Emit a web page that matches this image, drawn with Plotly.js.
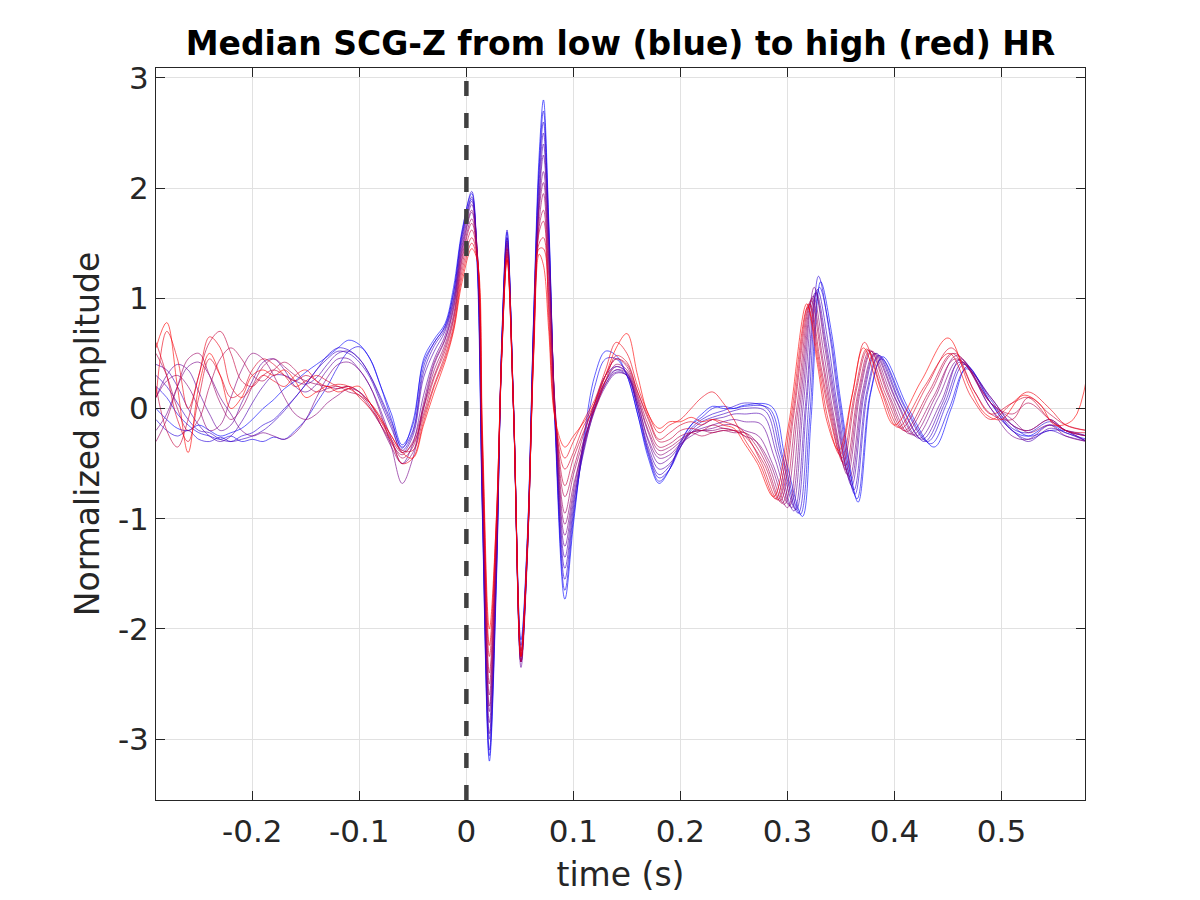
<!DOCTYPE html>
<html><head><meta charset="utf-8">
<script src="https://cdn.plot.ly/plotly-3.0.1.min.js"></script>
<style>html,body{margin:0;padding:0;background:#fff}#chart{width:1200px;height:900px}</style>
</head><body><div id="chart"></div>
<script>
// shared time grid (s) for the part before 0.26 s
const tShared = [-0.29,-0.28,-0.27,-0.26,-0.25,-0.24,-0.23,-0.22,-0.21,-0.2,-0.19,-0.18,-0.17,-0.16,-0.15,-0.14,-0.13,-0.12,-0.11,-0.1,-0.09,-0.08,-0.07,-0.06,-0.05,
 -0.04,-0.03,-0.02,-0.012,-0.004,0.005,0.01,0.015,0.0215,0.028,0.033,0.038,0.044,0.051,0.057,0.063,0.068,0.072,0.077,0.083,0.092,0.1,
 0.11,0.12,0.13,0.14,0.15,0.16,0.17,0.18,0.19,0.2,0.21,0.22,0.23,0.24,0.25,0.26];

// median beats, low HR (blue) -> high HR (red): amplitude on tShared
const z01 = [0.0,-0.1,-0.18,-0.2,-0.15,-0.2,-0.25,-0.22,-0.18,-0.1,0.0,0.08,0.18,0.25,0.33,0.4,0.47,0.55,0.62,0.58,0.45,0.2,-0.05,-0.33,-0.15,
 0.45,0.63,0.77,1.1,1.62,1.95,1.3,-1.0,-3.2,-1.6,0.6,1.6,0.0,-2.1,-1.15,0.9,2.3,2.8,1.7,-0.2,-1.73,-1.05,
 -0.25,0.3,0.52,0.48,0.3,-0.05,-0.45,-0.68,-0.55,-0.3,-0.15,-0.05,0.02,0.0,0.0,0.03];
const z02 = [0.2,0.1,-0.05,-0.15,-0.22,-0.25,-0.28,-0.25,-0.3,-0.28,-0.3,-0.26,-0.28,-0.2,-0.1,0.05,0.2,0.38,0.52,0.56,0.45,0.2,-0.1,-0.36,-0.12,
 0.42,0.6,0.75,1.05,1.58,1.9,1.35,-0.95,-3.15,-1.55,0.55,1.55,0.05,-2.15,-1.2,0.85,2.2,2.7,1.65,-0.15,-1.65,-1.0,
 -0.3,0.2,0.45,0.45,0.3,-0.05,-0.42,-0.66,-0.55,-0.32,-0.15,-0.08,0.0,0.02,0.0,0.02];
const z03 = [-0.1,-0.2,-0.25,-0.2,-0.28,-0.3,-0.26,-0.3,-0.25,-0.22,-0.15,-0.1,0.0,0.1,0.22,0.35,0.48,0.55,0.53,0.45,0.3,0.1,-0.12,-0.35,-0.2,
 0.38,0.6,0.74,1.05,1.6,1.97,1.4,-0.9,-3.1,-1.5,0.6,1.62,0.0,-2.2,-1.2,0.85,2.15,2.6,1.6,-0.15,-1.55,-0.95,
 -0.35,0.05,0.3,0.38,0.32,0.0,-0.4,-0.63,-0.55,-0.35,-0.18,-0.1,-0.05,-0.02,0.02,0.05];
const z04 = [0.3,0.2,0.05,-0.1,-0.2,-0.22,-0.28,-0.3,-0.28,-0.25,-0.2,-0.12,-0.02,0.1,0.22,0.35,0.45,0.52,0.5,0.42,0.28,0.05,-0.18,-0.38,-0.22,
 0.33,0.57,0.72,1.0,1.55,1.92,1.4,-0.85,-3.0,-1.45,0.55,1.55,0.05,-2.25,-1.25,0.8,2.05,2.5,1.55,-0.1,-1.45,-0.9,
 -0.3,0.02,0.25,0.35,0.3,0.0,-0.38,-0.6,-0.52,-0.35,-0.2,-0.12,-0.08,-0.05,-0.02,0.0];
const z05 = [0.4,0.35,0.2,0.0,-0.15,-0.25,-0.3,-0.25,-0.12,0.05,0.2,0.3,0.3,0.25,0.22,0.28,0.4,0.5,0.52,0.45,0.3,0.08,-0.15,-0.4,-0.25,
 0.28,0.52,0.7,0.98,1.52,1.88,1.45,-0.8,-2.95,-1.4,0.5,1.5,0.0,-2.3,-1.3,0.75,1.95,2.4,1.5,-0.1,-1.35,-0.85,
 -0.38,0.0,0.22,0.33,0.3,0.02,-0.35,-0.55,-0.5,-0.35,-0.22,-0.15,-0.1,-0.08,-0.05,-0.05];
const z06 = [0.1,0.3,0.4,0.35,0.15,-0.05,-0.2,-0.15,0.05,0.25,0.42,0.45,0.35,0.2,0.15,0.22,0.35,0.45,0.45,0.35,0.2,-0.02,-0.28,-0.5,-0.32,
 0.12,0.45,0.66,0.95,1.48,1.85,1.45,-0.7,-2.85,-1.35,0.55,1.52,0.05,-2.35,-1.35,0.75,1.9,2.3,1.45,-0.05,-1.25,-0.8,
 -0.35,-0.02,0.2,0.32,0.3,0.05,-0.3,-0.5,-0.45,-0.33,-0.22,-0.18,-0.15,-0.12,-0.1,-0.12];
const z07 = [-0.2,-0.05,0.2,0.38,0.42,0.3,0.1,-0.05,-0.2,-0.25,-0.22,-0.25,-0.28,-0.22,-0.1,0.1,0.28,0.4,0.42,0.35,0.2,-0.05,-0.35,-0.68,-0.45,
 0.0,0.4,0.62,0.9,1.42,1.78,1.4,-0.65,-2.75,-1.3,0.5,1.48,0.0,-2.3,-1.3,0.7,1.85,2.15,1.35,-0.05,-1.15,-0.75,
 -0.3,0.0,0.22,0.35,0.32,0.05,-0.28,-0.45,-0.42,-0.32,-0.25,-0.2,-0.18,-0.15,-0.15,-0.2];
const z08 = [0.1,0.25,0.3,0.2,0.0,-0.2,-0.15,0.1,0.35,0.5,0.45,0.3,0.1,-0.05,-0.1,-0.05,0.05,0.12,0.18,0.15,0.05,-0.15,-0.35,-0.5,-0.4,
 0.05,0.42,0.63,0.92,1.45,1.8,1.45,-0.6,-2.7,-1.25,0.5,1.45,0.05,-2.3,-1.3,0.7,1.8,2.05,1.3,0.0,-1.05,-0.7,
 -0.32,0.02,0.25,0.38,0.33,0.08,-0.22,-0.42,-0.38,-0.3,-0.22,-0.2,-0.2,-0.18,-0.2,-0.25];
const z09 = [-0.3,-0.1,0.2,0.45,0.5,0.3,0.05,-0.1,0.0,0.2,0.38,0.45,0.38,0.3,0.25,0.22,0.2,0.18,0.2,0.15,0.02,-0.15,-0.32,-0.42,-0.3,
 0.02,0.35,0.58,0.85,1.38,1.72,1.4,-0.55,-2.6,-1.2,0.45,1.42,0.0,-2.25,-1.3,0.65,1.7,1.95,1.2,0.0,-0.95,-0.6,
 -0.28,0.0,0.25,0.4,0.35,0.1,-0.2,-0.38,-0.35,-0.28,-0.22,-0.2,-0.22,-0.2,-0.22,-0.22];
const z10 = [0.5,0.3,0.0,-0.2,-0.1,0.2,0.45,0.55,0.45,0.3,0.25,0.35,0.42,0.35,0.22,0.15,0.18,0.2,0.15,0.12,0.0,-0.15,-0.3,-0.45,-0.35,
 0.0,0.3,0.55,0.82,1.35,1.68,1.42,-0.5,-2.5,-1.15,0.5,1.45,0.05,-2.3,-1.3,0.6,1.65,1.8,1.1,-0.05,-0.8,-0.55,
 -0.22,0.05,0.3,0.45,0.38,0.12,-0.15,-0.35,-0.32,-0.25,-0.22,-0.25,-0.22,-0.2,-0.2,-0.22];
const z11 = [0.2,-0.2,-0.35,-0.1,0.3,0.6,0.7,0.5,0.25,0.2,0.3,0.35,0.3,0.25,0.3,0.25,0.15,0.18,0.2,0.15,0.05,-0.1,-0.28,-0.4,-0.32,
 -0.05,0.28,0.52,0.8,1.3,1.62,1.4,-0.4,-2.4,-1.1,0.45,1.4,0.0,-2.25,-1.25,0.6,1.6,1.7,1.0,-0.05,-0.7,-0.45,
 -0.2,0.05,0.3,0.45,0.4,0.15,-0.1,-0.3,-0.28,-0.2,-0.18,-0.2,-0.15,-0.18,-0.2,-0.25];
const z12 = [0.6,0.3,-0.1,-0.3,0.1,0.45,0.3,0.1,0.15,0.35,0.45,0.4,0.3,0.2,0.25,0.3,0.25,0.2,0.18,0.12,0.05,-0.08,-0.25,-0.38,-0.38,
 -0.08,0.22,0.48,0.75,1.25,1.55,1.38,-0.35,-2.25,-1.05,0.5,1.38,0.0,-2.2,-1.25,0.55,1.5,1.55,0.9,-0.1,-0.55,-0.4,
 -0.15,0.0,0.25,0.48,0.42,0.15,-0.08,-0.28,-0.22,-0.15,-0.12,-0.15,-0.1,-0.12,-0.15,-0.22];
const z13 = [0.1,0.7,0.45,0.0,0.3,0.65,0.55,0.2,0.1,0.2,0.3,0.25,0.2,0.3,0.35,0.25,0.2,0.22,0.2,0.1,0.0,-0.12,-0.3,-0.5,-0.45,
 -0.12,0.2,0.45,0.72,1.2,1.5,1.35,-0.3,-2.15,-1.0,0.45,1.35,0.0,-2.25,-1.2,0.55,1.45,1.45,0.8,-0.1,-0.45,-0.3,
 -0.1,0.08,0.35,0.6,0.5,0.2,-0.05,-0.22,-0.15,-0.1,0.0,0.1,0.15,0.05,-0.1,-0.28];
const z14 = [0.55,0.78,0.2,-0.4,0.2,0.5,0.3,0.0,0.1,0.3,0.35,0.3,0.35,0.25,0.1,0.15,0.2,0.15,0.18,0.2,0.05,-0.1,-0.25,-0.4,-0.45,
 -0.15,0.15,0.42,0.7,1.15,1.45,1.35,-0.2,-2.0,-1.0,0.5,1.35,0.0,-2.25,-1.25,0.5,1.4,1.3,0.7,-0.1,-0.35,-0.25,
 -0.12,0.05,0.3,0.55,0.68,0.3,-0.05,-0.18,-0.12,-0.12,-0.08,-0.12,-0.1,-0.15,-0.18,-0.32];

// diastolic part (after 0.26 s): each beat's own sample times and amplitudes
const td01 = [0.285,0.298,0.314,0.322,0.331,0.341,0.350,0.366,0.378,0.389,0.413,0.437,0.453,0.468,0.49,0.51,0.525,0.545,0.56,0.58];
const zd01 = [0.02,-0.45,-0.98,-0.1,1.15,0.7,0.05,-0.85,0.15,0.47,0.0,-0.35,0.0,0.38,0.05,-0.2,-0.25,-0.15,-0.22,-0.28];
const td02 = [0.283,0.296,0.312,0.321,0.330,0.340,0.349,0.365,0.377,0.388,0.411,0.434,0.451,0.467,0.49,0.51,0.525,0.545,0.56,0.58];
const zd02 = [0.0,-0.45,-0.96,-0.05,1.1,0.68,0.05,-0.82,0.12,0.45,0.0,-0.32,0.0,0.36,0.1,-0.15,-0.25,-0.2,-0.2,-0.25];
const td03 = [0.281,0.294,0.310,0.320,0.329,0.339,0.348,0.363,0.375,0.386,0.409,0.431,0.449,0.465,0.49,0.51,0.525,0.545,0.56,0.58];
const zd03 = [0.0,-0.42,-0.95,0.05,1.2,0.7,0.05,-0.78,0.15,0.48,0.02,-0.3,0.05,0.4,0.08,-0.18,-0.22,-0.12,-0.2,-0.3];
const td04 = [0.279,0.292,0.308,0.318,0.328,0.338,0.347,0.362,0.374,0.385,0.407,0.428,0.447,0.464,0.49,0.51,0.525,0.545,0.56,0.58];
const zd04 = [-0.02,-0.42,-0.92,0.05,1.08,0.6,0.0,-0.74,0.15,0.48,0.02,-0.3,0.05,0.42,0.05,-0.2,-0.28,-0.2,-0.25,-0.3];
const td05 = [0.277,0.290,0.306,0.317,0.327,0.337,0.346,0.360,0.372,0.383,0.405,0.426,0.445,0.462,0.49,0.51,0.525,0.545,0.56,0.58];
const zd05 = [-0.06,-0.42,-0.93,0.05,1.05,0.55,0.0,-0.7,0.15,0.5,0.05,-0.28,0.05,0.45,0.0,-0.2,-0.3,-0.18,-0.22,-0.3];
const td06 = [0.275,0.288,0.304,0.315,0.326,0.336,0.345,0.359,0.371,0.382,0.403,0.423,0.443,0.461,0.49,0.51,0.525,0.545,0.56,0.58];
const zd06 = [-0.14,-0.45,-0.9,0.05,1.05,0.55,0.0,-0.66,0.15,0.5,0.05,-0.27,0.05,0.42,0.05,-0.15,-0.2,-0.1,-0.2,-0.25];
const td07 = [0.273,0.286,0.302,0.314,0.325,0.335,0.344,0.358,0.370,0.381,0.401,0.420,0.441,0.460,0.49,0.51,0.525,0.545,0.56,0.58];
const zd07 = [-0.25,-0.5,-0.88,0.1,1.1,0.55,0.0,-0.62,0.15,0.5,0.08,-0.25,0.1,0.44,0.0,-0.25,-0.28,-0.15,-0.2,-0.3];
const td08 = [0.271,0.284,0.300,0.312,0.324,0.334,0.343,0.356,0.368,0.379,0.398,0.417,0.438,0.458,0.49,0.51,0.525,0.545,0.56,0.58];
const zd08 = [-0.3,-0.5,-0.9,0.05,1.02,0.5,-0.05,-0.6,0.15,0.52,0.1,-0.24,0.1,0.48,0.05,-0.1,-0.22,-0.15,-0.25,-0.3];
const td09 = [0.269,0.282,0.297,0.310,0.323,0.333,0.342,0.355,0.367,0.378,0.396,0.414,0.436,0.457,0.49,0.51,0.525,0.545,0.56,0.58];
const zd09 = [-0.28,-0.5,-0.87,0.0,1.0,0.45,-0.05,-0.56,0.15,0.52,0.1,-0.23,0.1,0.45,0.1,-0.15,-0.2,-0.1,-0.2,-0.25];
const td10 = [0.268,0.280,0.295,0.308,0.322,0.332,0.341,0.354,0.366,0.377,0.394,0.411,0.434,0.456,0.49,0.51,0.525,0.545,0.56,0.58];
const zd10 = [-0.3,-0.5,-0.86,-0.05,0.98,0.45,-0.05,-0.52,0.15,0.53,0.12,-0.21,0.15,0.5,0.05,-0.05,0.05,-0.1,-0.2,-0.25];
const td11 = [0.278,0.293,0.306,0.321,0.331,0.340,0.352,0.364,0.375,0.392,0.409,0.432,0.454,0.475,0.49,0.51,0.525,0.545,0.56,0.58];
const zd11 = [-0.5,-0.84,-0.05,0.95,0.4,-0.05,-0.49,0.15,0.53,0.12,-0.2,0.15,0.5,0.15,-0.05,-0.1,0.1,-0.05,-0.15,-0.2];
const td12 = [0.276,0.291,0.305,0.320,0.330,0.339,0.351,0.363,0.374,0.390,0.406,0.430,0.453,0.475,0.49,0.51,0.525,0.545,0.56,0.58];
const zd12 = [-0.5,-0.83,-0.05,0.95,0.4,-0.05,-0.45,0.15,0.54,0.12,-0.18,0.2,0.55,0.15,-0.05,0.05,0.1,-0.1,-0.2,-0.22];
const td13 = [0.274,0.289,0.303,0.319,0.329,0.338,0.349,0.361,0.372,0.388,0.403,0.428,0.451,0.472,0.49,0.51,0.525,0.545,0.56,0.58];
const zd13 = [-0.5,-0.82,-0.1,0.92,0.4,-0.1,-0.42,0.15,0.6,0.15,-0.17,0.2,0.5,0.1,-0.1,0.05,0.15,0.0,-0.15,-0.2];
const td14 = [0.272,0.287,0.301,0.318,0.328,0.337,0.348,0.360,0.371,0.386,0.400,0.425,0.450,0.470,0.485,0.500,0.520,0.535,0.550,0.567,0.58];
const zd14 = [-0.5,-0.8,-0.15,0.95,0.4,-0.12,-0.38,0.1,0.55,0.15,-0.15,0.25,0.64,0.2,-0.05,-0.1,0.12,0.05,-0.15,-0.1,0.3];

const xTickVals = [-0.2,-0.1,0,0.1,0.2,0.3,0.4,0.5];
const xTickText = ['-0.2','-0.1','0','0.1','0.2','0.3','0.4','0.5'];
const yTickVals = [-3,-2,-1,0,1,2,3];
const yTickText = ['-3','-2','-1','0','1','2','3'];
const rPeakTime = 0;

const early = [z01,z02,z03,z04,z05,z06,z07,z08,z09,z10,z11,z12,z13,z14];
const lateT = [td01,td02,td03,td04,td05,td06,td07,td08,td09,td10,td11,td12,td13,td14];
const lateZ = [zd01,zd02,zd03,zd04,zd05,zd06,zd07,zd08,zd09,zd10,zd11,zd12,zd13,zd14];

const n = early.length;
const traces = early.map((z, k) => {
  const s = k / (n - 1);
  const r = Math.round(255 * s), b = 255 - r;
  return {
    x: tShared.concat(lateT[k]),
    y: z.concat(lateZ[k]),
    type: 'scatter', mode: 'lines',
    line: {color: `rgba(${r},0,${b},0.62)`, width: 1, shape: 'spline', smoothing: 1},
    hoverinfo: 'skip', showlegend: false
  };
});

const FONT = 'DejaVu Sans, Liberation Sans, sans-serif';
const axisCommon = {
  showline: true, linecolor: '#262626', linewidth: 1, mirror: 'allticks',
  ticks: 'inside', ticklen: 9, tickwidth: 1, tickcolor: '#262626',
  showgrid: true, gridcolor: '#e1e1e1', gridwidth: 1, zeroline: false,
  tickfont: {family: FONT, size: 31, color: '#262626'}
};

const layout = {
  width: 1200, height: 900,
  margin: {l: 156, r: 115, t: 68, b: 100},
  paper_bgcolor: '#ffffff', plot_bgcolor: '#ffffff',
  showlegend: false,
  title: {text: '<b>Median SCG-Z from low (blue) to high (red) HR</b>',
          font: {family: FONT, size: 33, color: '#000000'},
          x: 0.5, xref: 'paper', y: 1 - 43/900, yref: 'container', yanchor: 'middle'},
  xaxis: Object.assign({}, axisCommon, {
    range: [-0.29, 0.578], tickmode: 'array', tickvals: xTickVals, ticktext: xTickText,
    ticklabelstandoff: 4,
    title: {text: 'time (s)', font: {family: FONT, size: 33, color: '#262626'}, standoff: 14}
  }),
  yaxis: Object.assign({}, axisCommon, {
    range: [-3.553, 3.09], tickmode: 'array', tickvals: yTickVals, ticktext: yTickText,
    title: {text: 'Normalized amplitude', font: {family: FONT, size: 33, color: '#262626'}, standoff: 8}
  }),
  shapes: [{type: 'line', xref: 'x', yref: 'paper', x0: rPeakTime, x1: rPeakTime, y0: 0, y1: 1,
            line: {color: '#404040', width: 4.5, dash: '15px,17px'}, layer: 'above'}]
};

Plotly.newPlot('chart', traces, layout, {staticPlot: true, displayModeBar: false});
</script>
</body></html>
